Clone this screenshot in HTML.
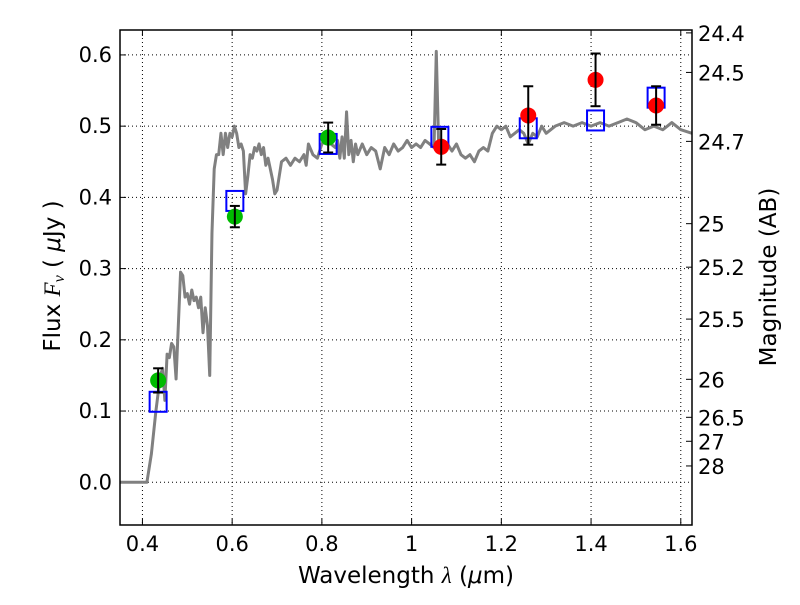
<!DOCTYPE html>
<html><head><meta charset="utf-8"><style>
body{margin:0;background:#fff}
svg text{font-family:"DejaVu Sans","Liberation Sans",sans-serif;fill:#000}
</style></head><body>
<svg id="chart" width="800" height="600" xmlns="http://www.w3.org/2000/svg"></svg>
<script>
const specX=[0.35,0.41,0.42,0.43,0.44,0.445,0.45,0.455,0.46,0.465,0.47,0.475,0.48,0.485,0.49,0.495,0.5,0.505,0.51,0.515,0.52,0.525,0.53,0.535,0.54,0.545,0.55,0.555,0.56,0.565,0.57,0.575,0.58,0.585,0.59,0.595,0.6,0.605,0.61,0.615,0.62,0.625,0.63,0.635,0.64,0.645,0.65,0.655,0.66,0.665,0.67,0.675,0.68,0.69,0.695,0.7,0.71,0.72,0.73,0.74,0.75,0.76,0.765,0.77,0.78,0.79,0.8,0.81,0.82,0.83,0.835,0.84,0.845,0.85,0.855,0.86,0.865,0.87,0.875,0.88,0.89,0.9,0.91,0.92,0.93,0.94,0.95,0.96,0.97,0.98,0.99,1.0,1.01,1.02,1.03,1.04,1.05,1.055,1.06,1.07,1.08,1.09,1.1,1.11,1.12,1.13,1.14,1.15,1.16,1.17,1.18,1.19,1.2,1.21,1.22,1.23,1.24,1.25,1.26,1.27,1.28,1.29,1.3,1.32,1.34,1.36,1.38,1.4,1.42,1.44,1.46,1.48,1.5,1.52,1.54,1.56,1.58,1.6,1.625];
const specY=[0,0,0.04,0.1,0.15,0.16,0.115,0.18,0.175,0.195,0.19,0.145,0.22,0.295,0.29,0.26,0.265,0.25,0.27,0.255,0.26,0.245,0.26,0.21,0.245,0.22,0.15,0.35,0.44,0.46,0.46,0.49,0.46,0.49,0.47,0.49,0.485,0.5,0.49,0.47,0.475,0.465,0.405,0.43,0.46,0.455,0.47,0.465,0.475,0.46,0.47,0.445,0.455,0.425,0.405,0.41,0.45,0.455,0.445,0.455,0.45,0.46,0.445,0.475,0.46,0.455,0.475,0.48,0.475,0.47,0.48,0.455,0.485,0.455,0.52,0.46,0.48,0.45,0.475,0.46,0.475,0.46,0.47,0.465,0.44,0.47,0.46,0.475,0.465,0.47,0.48,0.47,0.475,0.47,0.48,0.475,0.47,0.605,0.48,0.47,0.475,0.465,0.475,0.46,0.455,0.46,0.45,0.465,0.47,0.465,0.49,0.5,0.495,0.5,0.485,0.49,0.495,0.49,0.475,0.49,0.485,0.5,0.49,0.5,0.505,0.5,0.505,0.5,0.505,0.5,0.505,0.51,0.505,0.495,0.5,0.495,0.505,0.495,0.49];
const greenX=[0.435,0.606,0.814], greenY=[0.143,0.373,0.484], greenErr=[0.017,0.015,0.021];
const redX=[1.066,1.26,1.41,1.545], redY=[0.471,0.515,0.565,0.529], redErr=[0.025,0.041,0.037,0.027];
const modelX=[0.435,0.606,0.814,1.063,1.26,1.41,1.545], modelY=[0.113,0.395,0.475,0.485,0.497,0.508,0.54];
const xTicks=[0.4,0.6,0.8,1.0,1.2,1.4,1.6], xLabels=["0.4","0.6","0.8","1","1.2","1.4","1.6"];
const yTicks=[0,0.1,0.2,0.3,0.4,0.5,0.6], yLabels=["0.0","0.1","0.2","0.3","0.4","0.5","0.6"];
const magTicks=[24.4,24.5,24.7,25,25.2,25.5,26,26.5,27,28];

const L=120,R=692,T=30,B=525,x0=0.35,x1=1.625,y0=-0.06,y1=0.635;
const sx=v=>L+(v-x0)/(x1-x0)*(R-L), sy=v=>B-(v-y0)/(y1-y0)*(B-T);
const svg=document.getElementById('chart'), NS='http://www.w3.org/2000/svg';
function mk(t,a,p){const e=document.createElementNS(NS,t);for(const k in a)e.setAttribute(k,a[k]);(p||svg).appendChild(e);return e;}
xTicks.forEach((v,i)=>{
 const g=mk('line',{x1:sx(v),x2:sx(v),y1:T,y2:B,stroke:'#000','stroke-width':1,'stroke-dasharray':'1,3'});
 
 mk('line',{x1:sx(v),x2:sx(v),y1:B,y2:B-6,stroke:'#000'});mk('line',{x1:sx(v),x2:sx(v),y1:T,y2:T+6,stroke:'#000'});
 const t=mk('text',{x:sx(v),y:B+26,'font-size':21,'text-anchor':'middle'});t.textContent=xLabels[i];
 
});
yTicks.forEach((v,i)=>{
 const g=mk('line',{x1:L,x2:R,y1:sy(v),y2:sy(v),stroke:'#000','stroke-width':1,'stroke-dasharray':'1,3'});
 
 mk('line',{x1:L,x2:L+6,y1:sy(v),y2:sy(v),stroke:'#000'});
 const t=mk('text',{x:L-8,y:sy(v)+7,'font-size':21,'text-anchor':'end'});t.textContent=yLabels[i];
 
});
magTicks.forEach(m=>{
 const f=Math.pow(10,-(m-23.9)/2.5),y=sy(f);
 mk('line',{x1:R,x2:R-6,y1:y,y2:y,stroke:'#000'});
 const t=mk('text',{x:R+6,y:y+8,'font-size':21});t.textContent=String(m);
 
});
const sp=mk('polyline',{points:specX.map((v,i)=>sx(v)+','+sy(specY[i])).join(' '),fill:'none',stroke:'#808080','stroke-width':3,'stroke-linejoin':'round'});

modelX.forEach((v,i)=>{
 const r=mk('rect',{x:sx(v)-8.5,y:sy(modelY[i])-10,width:17,height:20,fill:'none',stroke:'#0000ff','stroke-width':2});
 
});
function pts(X,Y,E,col,name){X.forEach((v,i)=>{
 const cx=sx(v);
 const c=mk('circle',{cx:cx,cy:sy(Y[i]),r:8,fill:col});
 
 const yt=sy(Y[i]+E[i]),yb=sy(Y[i]-E[i]);
 const e=mk('line',{x1:cx,x2:cx,y1:yt,y2:yb,stroke:'#000','stroke-width':2});
 
 mk('line',{x1:cx-5,x2:cx+5,y1:yt,y2:yt,stroke:'#000','stroke-width':2});
 mk('line',{x1:cx-5,x2:cx+5,y1:yb,y2:yb,stroke:'#000','stroke-width':2});
});}
pts(greenX,greenY,greenErr,'#00bb00','optical-flux-point');
pts(redX,redY,redErr,'#ff0000','nir-flux-point');
const fr=mk('rect',{x:L,y:T,width:R-L,height:B-T,fill:'none',stroke:'#000','stroke-width':1.5});

let t=mk('text',{x:406,y:583,'font-size':23,'text-anchor':'middle'});
t.innerHTML='Wavelength  <tspan font-style="italic" font-family="Liberation Serif">λ</tspan> (<tspan font-style="italic">μ</tspan>m)';

t=mk('text',{x:0,y:0,'font-size':23,'text-anchor':'middle',transform:'translate(60,276) rotate(-90)'});
t.innerHTML='Flux  <tspan font-style="italic" font-family="Liberation Serif">F</tspan><tspan font-style="italic" font-family="Liberation Serif" font-size="16" dy="4">ν</tspan><tspan dy="-4">  ( </tspan><tspan font-style="italic">μ</tspan>Jy )';

t=mk('text',{x:0,y:0,'font-size':23,'text-anchor':'middle',transform:'translate(776,277) rotate(-90)'});t.textContent='Magnitude (AB)';

</script>
</body></html>
